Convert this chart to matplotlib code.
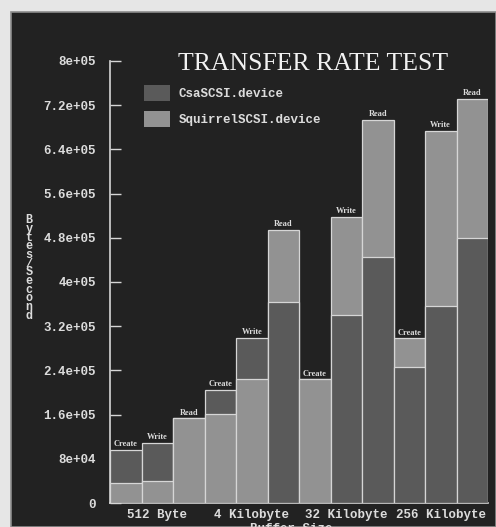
import numpy as np
import matplotlib
matplotlib.use("Agg")
import matplotlib.pyplot as plt
from matplotlib.patches import Rectangle, Patch

ops = ["Create", "Write", "Read"] * 4
sizes = ["512 Byte", "4 Kilobyte", "32 Kilobyte", "256 Kilobyte"]
csa = [9.6e4, 1.09e5, 1.53e5, 2.05e5, 2.99e5, 3.64e5,
       2.24e5, 3.40e5, 4.46e5, 2.47e5, 3.57e5, 4.79e5]
squirrel = [3.7e4, 4.0e4, 1.53e5, 1.61e5, 2.24e5, 4.94e5,
            2.24e5, 5.18e5, 6.93e5, 2.98e5, 6.74e5, 7.31e5]
yticks = [0, 8e4, 1.6e5, 2.4e5, 3.2e5, 4e5, 4.8e5, 5.6e5, 6.4e5, 7.2e5, 8e5]
ytick_labels = ["0", "8e+04", "1.6e+05", "2.4e+05", "3.2e+05", "4e+05",
                "4.8e+05", "5.6e+05", "6.4e+05", "7.2e+05", "8e+05"]

c_csa = "#5a5a5a"
c_sq = "#929292"
edge = "#d6d6d6"
txt = "#dcdcdc"
mono = "Liberation Mono"

W, H = 496, 527
fig = plt.figure(figsize=(W / 100, H / 100), dpi=100, facecolor="#e6e6e6")
fig.patches.append(Rectangle((11 / W, 0), 1 - 11 / W, 1 - 12 / H,
                             transform=fig.transFigure, facecolor="#222222",
                             edgecolor="#8c8c8c", lw=1.2, zorder=-10))

ax = fig.add_axes([110 / W, 1 - 503 / H, 378 / W, 442 / H])
ax.set_facecolor("none")

x = np.arange(len(csa))
for i in x:
    a, b = csa[i], squirrel[i]
    # taller one behind, shorter one in front (squirrel in front on a tie)
    if a >= b:
        back, front = (a, c_csa), (b, c_sq)
    else:
        back, front = (b, c_sq), (a, c_csa)
    ax.bar(i, back[0], width=1.0, color=back[1], edgecolor=edge, lw=0.9, zorder=2)
    ax.bar(i, front[0], width=1.0, color=front[1], edgecolor=edge, lw=0.9, zorder=3)
    ax.text(i, max(a, b) + 3000, ops[i], ha="center", va="bottom",
            fontsize=6, family="Liberation Serif", fontweight="bold",
            color=txt, zorder=4)

ax.set_xlim(-0.5, 11.5)
ax.set_ylim(0, 8e5)
ax.set_yticks(yticks)
ax.set_yticklabels(ytick_labels)
ax.set_xticks([1, 4, 7, 10])
ax.set_xticklabels(sizes)
ax.tick_params(axis="y", direction="in", length=8, width=1, color=edge,
               pad=10, labelsize=9, labelcolor=txt)
ax.tick_params(axis="x", length=0, pad=4, labelsize=9, labelcolor=txt)
for lab in ax.get_xticklabels() + ax.get_yticklabels():
    lab.set_family(mono)
    lab.set_fontweight("bold")
for s in ["top", "right"]:
    ax.spines[s].set_visible(False)
for s in ["left", "bottom"]:
    ax.spines[s].set_color(edge)
    ax.spines[s].set_linewidth(1.2)

handles = [Patch(facecolor=c_csa, edgecolor="none"),
           Patch(facecolor=c_sq, edgecolor="none")]
leg = ax.legend(handles, ["CsaSCSI.device", "SquirrelSCSI.device"],
                loc="upper left", bbox_to_anchor=(34 / 378, 418 / 442),
                frameon=False, borderpad=0, borderaxespad=0,
                handlelength=2.1, handleheight=1.6, labelspacing=0.8,
                handletextpad=0.65, prop={"family": mono, "weight": "bold", "size": 9})
for t in leg.get_texts():
    t.set_color(txt)

fig.text(313 / W, 1 - 64 / H, "TRANSFER RATE TEST", ha="center", va="center",
         family="Liberation Serif", fontsize=18.5, color="#f2f2f2")
fig.text(29 / W, 1 - 268 / H, "\n".join("Bytes/Second"), ha="center", va="center",
         family=mono, fontweight="bold", fontsize=8.5, linespacing=0.63, color=txt)
fig.text(291 / W, 1 - 523 / H, "Buffer Size", ha="center", va="top",
         family=mono, fontweight="bold", fontsize=9, color=txt)

fig.savefig("out.png", dpi=100, facecolor=fig.get_facecolor())
